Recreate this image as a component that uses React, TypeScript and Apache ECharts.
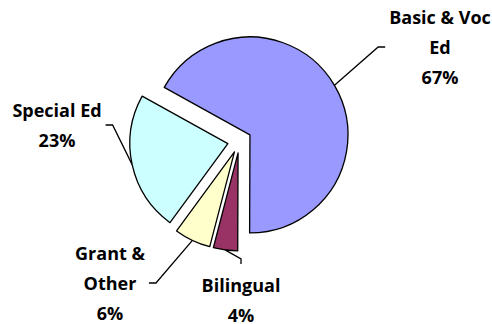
import React, { useEffect, useRef } from 'react';
import * as echarts from 'echarts';

const categories = ['Basic & Voc Ed', 'Bilingual', 'Grant & Other', 'Special Ed'];
const labelTexts = ['Basic & Voc\nEd', 'Bilingual', 'Grant &\nOther', 'Special Ed'];
const values = [67, 4, 6, 23];
const colors = ['#9999FF', '#993366', '#FFFFCC', '#CCFFFF'];

// layout of the label blocks (centre) and the side the leader line attaches to
const labelCenters = [[440, 47], [241, 300], [110, 283], [57, 125]];
const labelSides = ['left', 'top', 'right', 'right'];

const CENTER = [239.6, 141];
const RADIUS = 98;
const START = 151;
const EXPLODE = 12;

export default function App() {
  const ref = useRef<HTMLDivElement>(null);
  useEffect(() => {
    document.body.style.margin = '0';
    const chart = echarts.init(ref.current!, null, { renderer: 'svg' });
    const total = values.reduce((a, b) => a + b, 0);
    let cum = 0;
    const series = categories.map((_, k) => {
      const mid = ((START - ((cum + values[k] / 2) / total) * 360) * Math.PI) / 180;
      cum += values[k];
      const cx = CENTER[0] + EXPLODE * Math.cos(mid);
      const cy = CENTER[1] - EXPLODE * Math.sin(mid);
      return {
        type: 'pie',
        center: [cx, cy],
        radius: RADIUS,
        startAngle: START,
        clockwise: true,
        avoidLabelOverlap: false,
        emphasis: { disabled: true },
        label: { show: false },
        labelLine: { show: false },
        labelLayout: (params: any) => {
          const i = params.dataIndex;
          if (i !== k) return {};
          const [lx, ly] = labelCenters[i];
          const w = params.labelRect.width;
          const h = params.labelRect.height;
          const p0 = params.labelLinePoints ? params.labelLinePoints[0] : [lx, ly];
          let bend: number[];
          let end: number[];
          const side = labelSides[i];
          if (side === 'left') {
            end = [lx - w / 2 - 4, ly];
            bend = [end[0] - 7, ly];
          } else if (side === 'right') {
            end = [lx + w / 2 + 4, ly];
            bend = [end[0] + 7, ly];
          } else {
            const top = ly - h / 2;
            bend = [lx, top - 11];
            end = [lx, top - 6];
          }
          return {
            x: lx,
            y: ly,
            align: 'center',
            verticalAlign: 'middle',
            labelLinePoints: [p0, bend, end],
          };
        },
        data: categories.map((name, i) => ({
          name,
          value: values[i],
          itemStyle:
            i === k
              ? { color: colors[i], borderColor: '#000', borderWidth: 1.3 }
              : { color: 'rgba(0,0,0,0)', borderWidth: 0 },
          label:
            i === k
              ? {
                  show: true,
                  position: 'outside',
                  fontFamily: 'Open Sans',
                  fontWeight: 'bold',
                  fontSize: 18,
                  lineHeight: 30,
                  color: '#000',
                  formatter: (p: any) => labelTexts[p.dataIndex] + '\n' + p.percent + '%',
                }
              : { show: false },
          labelLine:
            i === k
              ? { show: true, length: 10, length2: 10, lineStyle: { color: '#000', width: 1.3 } }
              : { show: false },
        })),
      };
    });
    chart.setOption({ animation: false, backgroundColor: '#ffffff', series });
    return () => chart.dispose();
  }, []);
  return <div ref={ref} style={{ width: 492, height: 324 }} />;
}
